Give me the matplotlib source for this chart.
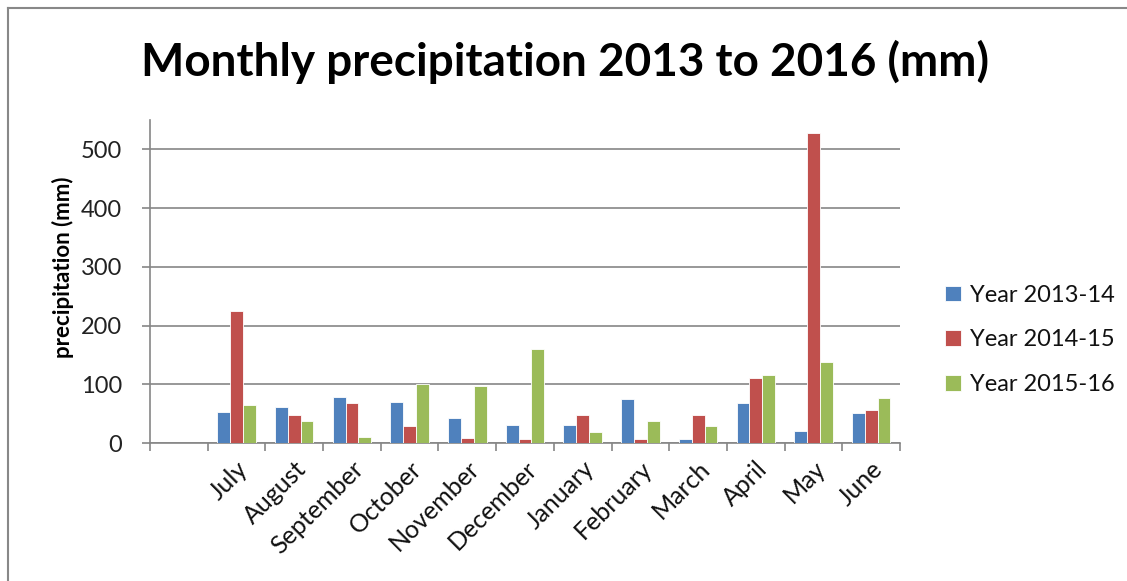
import matplotlib
matplotlib.use('Agg')
import matplotlib.pyplot as plt
import numpy as np
from matplotlib.lines import Line2D

plt.rcParams['font.family'] = ['Lato', 'DejaVu Sans']

# first slot on the category axis is left blank
months = ['', 'July', 'August', 'September', 'October', 'November', 'December',
          'January', 'February', 'March', 'April', 'May', 'June']
series = ['Year 2013-14', 'Year 2014-15', 'Year 2015-16']
y2013_14 = [0, 53, 62, 79, 70, 42, 31, 31, 75, 7, 68, 20, 51]
y2014_15 = [0, 225, 47, 68, 29, 9, 7, 47, 7, 47, 110, 527, 57]
y2015_16 = [0, 64, 38, 11, 100, 97, 160, 18, 38, 29, 116, 138, 77]
colors = ['#4F81BD', '#C0504D', '#9BBB59']

fig = plt.figure(figsize=(11.27, 5.81), dpi=100)
ax = fig.add_axes([0.1331, 0.2375, 0.6655, 0.556])

x = np.arange(len(months))
w = 1 / 4.5
for i, (vals, c, name) in enumerate(zip([y2013_14, y2014_15, y2015_16], colors, series)):
    ax.bar(x + (i - 1) * w, vals, width=w, color=c, edgecolor='white',
           linewidth=0.6, label=name, zorder=3)

ax.set_xlim(-0.5, len(months) - 0.5)
ax.set_ylim(0, 550)
ax.set_yticks(range(0, 501, 100))
ax.grid(axis='y', color='#868686', linewidth=1.2, zorder=0)

# tick marks at category boundaries, labels at centres
ax.set_xticks(np.arange(-0.5, len(months)), minor=False)
ax.set_xticklabels([])
ax.set_xticks(x, minor=True)
ax.set_xticklabels(months, minor=True, rotation=45, ha='right',
                   rotation_mode='anchor', fontsize=18, color='#111111')
ax.tick_params(axis='x', which='minor', length=0, pad=10)
ax.tick_params(axis='x', which='major', length=6, color='#868686', width=1.2)
ax.tick_params(axis='y', length=6, color='#868686', width=1.2, pad=14,
               labelsize=17, labelcolor='#222222')

for s in ['top', 'right']:
    ax.spines[s].set_visible(False)
for s in ['left', 'bottom']:
    ax.spines[s].set_color('#868686')
    ax.spines[s].set_linewidth(1.2)

ax.set_ylabel('precipitation (mm)', fontsize=16, fontweight='bold')
ax.yaxis.set_label_coords(-0.102, 0.545)

fig.suptitle('Monthly precipitation 2013 to 2016 (mm)', x=0.501, y=0.932,
             fontsize=33, fontweight='bold')

handles, labels = ax.get_legend_handles_labels()
fig.legend(handles, labels, loc='center left', bbox_to_anchor=(0.82, 0.415),
           frameon=False, fontsize=17, handlelength=0.65, handleheight=0.65,
           handletextpad=0.4, labelspacing=1.0, labelcolor='#111111')

# outer chart border
fig.add_artist(Line2D([8 / 1127, 8 / 1127], [0, 1 - 8 / 581],
                      transform=fig.transFigure, color='#888888', linewidth=1.5))
fig.add_artist(Line2D([8 / 1127, 1], [1 - 8 / 581, 1 - 8 / 581],
                      transform=fig.transFigure, color='#888888', linewidth=1.5))

fig.savefig('out.png', dpi=100, facecolor='white')
